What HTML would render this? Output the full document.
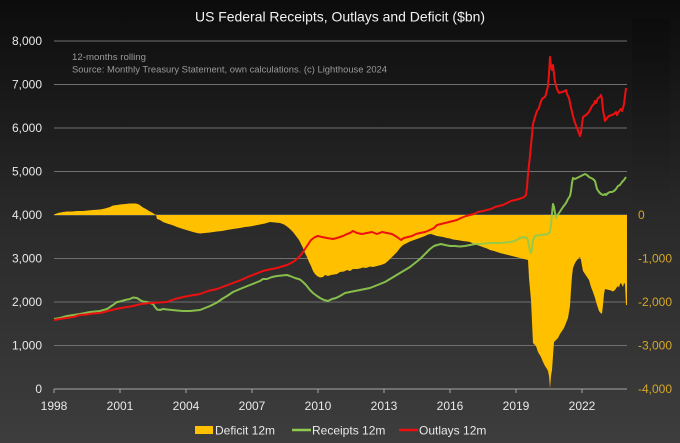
<!DOCTYPE html>
<html><head><meta charset="utf-8"><style>
html,body{margin:0;padding:0;background:#222;}
svg{display:block;}
text{font-family:"Liberation Sans",sans-serif;}
</style></head><body>
<svg width="680" height="443" viewBox="0 0 680 443" xmlns="http://www.w3.org/2000/svg">
<defs>
<linearGradient id="bg" x1="0" y1="0" x2="0" y2="1">
<stop offset="0" stop-color="#0c0c0c"/>
<stop offset="0.5" stop-color="#2a2a2a"/>
<stop offset="1" stop-color="#3d3d3d"/>
</linearGradient>
<linearGradient id="shade" x1="0" y1="0" x2="0" y2="1">
<stop offset="0" stop-color="#000" stop-opacity="0.18"/>
<stop offset="1" stop-color="#000" stop-opacity="0"/>
</linearGradient>
</defs>
<rect width="680" height="443" fill="url(#bg)"/>
<rect x="632" y="18" width="38" height="200" fill="url(#shade)"/>

<text x="340" y="21.5" font-size="14" fill="#f2f2f2" text-anchor="middle" textLength="290" lengthAdjust="spacingAndGlyphs">US Federal Receipts, Outlays and Deficit ($bn)</text>

<g stroke="#707070" stroke-width="1">
<line x1="54" y1="41" x2="627" y2="41"/>
<line x1="54" y1="84.5" x2="627" y2="84.5"/>
<line x1="54" y1="128" x2="627" y2="128"/>
<line x1="54" y1="171.5" x2="627" y2="171.5"/>
<line x1="54" y1="215" x2="627" y2="215"/>
<line x1="54" y1="258.5" x2="627" y2="258.5"/>
<line x1="54" y1="302" x2="627" y2="302"/>
<line x1="54" y1="345.5" x2="627" y2="345.5"/>
</g>

<text x="72" y="60" font-size="9.5" fill="#9a9a9a" textLength="74" lengthAdjust="spacingAndGlyphs">12-months rolling</text>
<text x="72" y="72.5" font-size="9.5" fill="#9a9a9a" textLength="315" lengthAdjust="spacingAndGlyphs">Source: Monthly Treasury Statement, own calculations. (c) Lighthouse 2024</text>

<g font-size="12" fill="#e8e8e8" text-anchor="end">
<text x="42" y="45">8,000</text>
<text x="42" y="88.5">7,000</text>
<text x="42" y="132">6,000</text>
<text x="42" y="175.5">5,000</text>
<text x="42" y="219">4,000</text>
<text x="42" y="262.5">3,000</text>
<text x="42" y="306">2,000</text>
<text x="42" y="349.5">1,000</text>
<text x="42" y="393">0</text>
</g>

<g font-size="12" fill="#d6a62a">
<text x="638" y="219">0</text>
<text x="638" y="262.5">-1,000</text>
<text x="638" y="306">-2,000</text>
<text x="638" y="349.5">-3,000</text>
<text x="638" y="393">-4,000</text>
</g>

<polygon fill="#ffc000" points="54,215 54,214.5 58,213 63,212 67,211.5 72,211.5 77,211 83,211 88,210.5 93,210 100,209.5 105,208.5 110,207 113,205.5 117,205 120,204.5 125,204 130,203.5 133,203.5 136,203.5 139,204.5 141,206 143,207.5 146,209 149,211 152,212.5 155,214.5 156,215 157,219 160,220 163,222 167,223.5 172,225 177,227 183,229 188,230.5 193,232 197,233 200,233.5 205,233 210,232.5 217,231.5 222,231 227,230 233,229 240,228 245,227 250,226.5 255,225.5 260,224.5 265,223.5 270,222 275,222.5 280,223 284,224.5 287,226.5 290,229 293,232 296,236 299,240 301,244 303,248 305,253 307,257 309,262 311,266 313,271 315,274 317,276 320,277.5 323,277 325,275 328,276 331,275 334,274.5 337,274 340,272 344,271.5 347,270 350,271 353,269 357,269 360,268.5 363,267.5 366,268 370,266.5 373,267 377,266 381,265 385,263.5 388,261 391,258 394,255 397,252 400,248 403,245 406,243.5 410,241.5 414,240 417,239 421,237.5 425,236 428,234.5 431,234 434,235 437,236 440,236.5 443,237 447,238 450,238.5 453,239.5 457,240 460,240.5 463,241 467,241.5 470,242 473,243.5 477,245 480,246 484,247.5 487,248.5 490,250 494,251 497,252 500,253 504,254 508,255 512,256 516,257 520,258 524,259 528,260 529,278 531,300 532,322 533,343 536,346 538,352 541,357 543,362 545,366 547,369 548,371 549,376 550,388.5 551,376 552,370 553,356 554,342 556,340 558,338 560,334 562,331 564,328 566,323 568,318 569,312 570,306 571,290 572,276 573,268 575,263 577,260 579,258 580,257 581,260 582,266 583,271 585,274 587,277 589,280 591,287 593,292 595,298 597,305 599,311 601,313.5 602,313.5 603,305 604,294 605,289 607,289.5 609,290 611,290.5 613,291.5 615,290 617,287 618,286 619,287.5 620,284 621,283 622,285 623,287 624,283 625,284 626,305 627,305 627,215"/>

<g stroke="#a6a6a6" stroke-width="1">
<line x1="54" y1="389" x2="627" y2="389"/>
<line x1="54" y1="389" x2="54" y2="393"/>
<line x1="120" y1="389" x2="120" y2="393"/>
<line x1="186" y1="389" x2="186" y2="393"/>
<line x1="252" y1="389" x2="252" y2="393"/>
<line x1="318" y1="389" x2="318" y2="393"/>
<line x1="384" y1="389" x2="384" y2="393"/>
<line x1="450" y1="389" x2="450" y2="393"/>
<line x1="516" y1="389" x2="516" y2="393"/>
<line x1="582" y1="389" x2="582" y2="393"/>
</g>

<g font-size="12" fill="#e8e8e8" text-anchor="middle">
<text x="54" y="410">1998</text>
<text x="120" y="410">2001</text>
<text x="186" y="410">2004</text>
<text x="252" y="410">2007</text>
<text x="318" y="410">2010</text>
<text x="384" y="410">2013</text>
<text x="450" y="410">2016</text>
<text x="516" y="410">2019</text>
<text x="582" y="410">2022</text>
</g>

<polyline fill="none" stroke="#8fcb4e" stroke-opacity="0.92" stroke-width="2" stroke-linejoin="round" points="54,319 60,318 67,316 80,314 90,312 100,311 107,309 113,305 117,302 120,301.5 125,300 130,299 133,297.5 137,298 140,300 143,301.5 147,302 150,303 153,304 155,307 157,309.5 160,310 163,309 167,309.5 172,310 177,310.5 183,311 190,311 195,310.5 200,310 205,308 210,306 217,302.5 222,299 227,296 233,292 240,289 245,287 250,285 255,283 260,281 263,279 267,279 272,277 277,276 282,275.5 287,275 290,276 295,278 300,279.5 303,282 306,285 310,290 313,293 317,296 320,298 324,300 328,301 332,299 336,298 340,296 345,293 350,292 355,291 360,290 365,289 370,288 375,286 380,284 385,282 390,279 395,276 400,273 405,270 410,267 415,263 420,259 425,254 430,249 434,246 437,245 441,244 445,245 450,246 455,246 460,246.5 465,246 470,245 475,244 480,244 485,243.5 490,243 495,243 500,243 505,242.5 510,242 515,241 520,238 524,237 527,238 528,241 529,246 530,251 531,253 532,249 533,240 535,236 540,235 545,234.5 548,234 550,232 551,225 552,214 553,204 554,207 555,213 556,218 557,216 559,213 561,210 563,207 566,203 568,199 570,196 571,191 572,183 573,178 575,179 577,178 579,177 581,176 583,175 585,174 587,175 589,177 591,178 593,179 595,181 596,185 597,189 599,192 601,194 603,195 605,194 606,195 608,193 610,192 612,192 614,191 616,189 618,186 620,185 622,182 624,180 626,177"/>

<polyline fill="none" stroke="#ee1010" stroke-width="2" stroke-linejoin="round" points="54,320 60,319 66,318 73,317 80,315 86,314.5 93,313.5 100,313 108,311 116,309 124,307.5 133,306 141,304 150,303 158,302.5 167,302 175,299 183,297 191,295.5 200,294 208,291 217,289 225,286 233,283 241,280 250,276 254,274.5 258,273 263,271 267,270 272,269 277,268 282,266.5 287,265 290,263.5 293,262 297,259 300,256 303,252 307,246 311,240 315,237 318,236 322,237 327,238 333,239 337,238 343,236 347,234 350,233 353,231 357,233 362,234 367,233 372,232 377,234 382,232 387,233 392,234 397,237 401,240 404,238 408,237 412,236 416,234 420,233 425,232 430,230 434,228 437,225 441,224 445,223 449,222 453,221 457,220 461,218 466,216 470,215 474,214 478,212 483,211 487,210 491,209 495,207 499,206 503,205 507,203 511,201 515,200 519,199 522,198 524,197 526,195 527,187 528,174 529,165 530,156 531,145 532,135 533,124 535,117 537,111 539,108 540,104 542,99 543,98 545,97 546,94 548,86 549,74 550,57 551,66 552,70 553,65 554,74 555,82 557,89 559,93 562,92 565,91 566,90 567,94 569,98 570,103 572,112 574,120 577,128 580,136 581,133 582,124 583,117 586,115 589,112 590,110 592,106 594,104 595,101 596,103 598,98 600,97 601,95 602,99 603,110 605,121 607,118 609,116 612,115 614,114 616,112 617,115 618,113 620,110 621,109 622,111 623,108 624,104 625,96 626,88"/>

<rect x="195" y="426" width="18" height="8" fill="#ffc000"/>
<line x1="292" y1="430" x2="311" y2="430" stroke="#8fcb4e" stroke-width="2.5"/>
<line x1="399" y1="430" x2="418" y2="430" stroke="#ee1010" stroke-width="2.5"/>
<g font-size="12" fill="#e8e8e8">
<text x="215" y="434.5">Deficit 12m</text>
<text x="312" y="434.5">Receipts 12m</text>
<text x="419" y="434.5">Outlays 12m</text>
</g>
</svg>
</body></html>
